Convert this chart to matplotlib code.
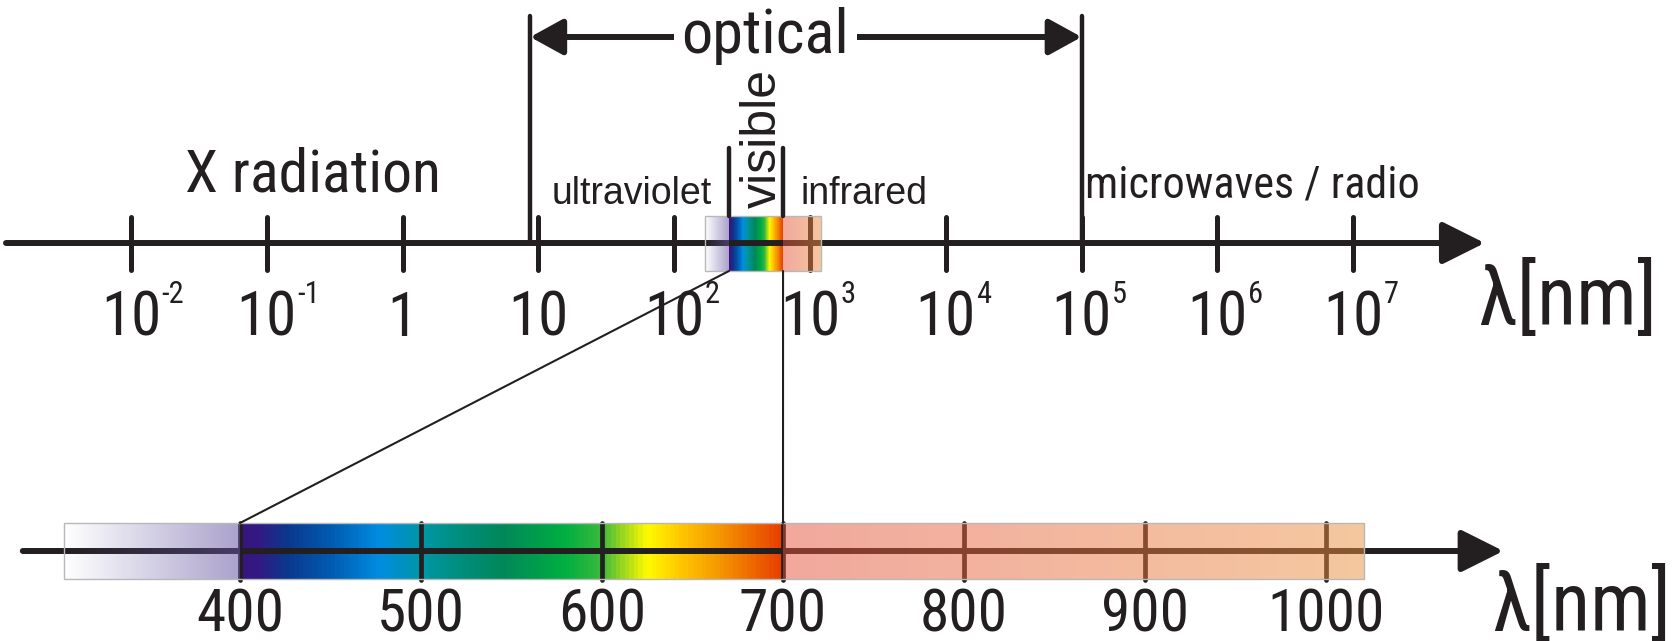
import numpy as np
import matplotlib.pyplot as plt
import matplotlib.transforms as mtrans
from matplotlib import font_manager
from matplotlib.font_manager import FontProperties
from matplotlib.ft2font import FT2Font
from matplotlib.patches import Rectangle, ConnectionPatch

# --- overview axis (log scale, nm) ---
top_ticks = [1e-2, 1e-1, 1, 10, 1e2, 1e3, 1e4, 1e5, 1e6, 1e7]
top_tick_base = ["10", "10", "1", "10", "10", "10", "10", "10", "10", "10"]
top_tick_exp = ["-2", "-1", "", "", "2", "3", "4", "5", "6", "7"]
top_axis_nm = [1.2e-3, 9.3e7]
optical_nm = [8.7, 1e5]
top_band_nm = [169, 253, 633, 1205]      # uv start, visible start, visible end, ir end

region_labels = ["X radiation", "ultraviolet", "infrared", "microwaves / radio"]
region_x_nm = [0.22, 49, 2500, 1.8e6]

# --- zoomed axis (linear, nm) ---
bottom_ticks = [400, 500, 600, 700, 800, 900, 1000]
bottom_axis_nm = [280, 1098]
bottom_band_nm = [303, 400, 700, 1021]

# spectrum colours across 400-700 nm
spec_nm = [400, 410, 426, 450, 477, 500, 525, 545, 580, 600, 612, 625, 643, 665, 700]
spec_rgb = [(55, 20, 125), (50, 25, 130), (10, 55, 140), (0, 90, 175), (0, 140, 225),
            (0, 150, 165), (0, 140, 120), (0, 135, 90), (0, 175, 65), (60, 185, 60),
            (160, 215, 30), (255, 250, 0), (255, 200, 0), (245, 150, 0), (230, 60, 0)]

INK = "#231f20"
REG = "Liberation Sans"


def find_narrow():
    # the original uses a narrow Arial-like face; take a condensed face if one is installed
    prefs = ["liberation sans narrow", "arial narrow", "roboto condensed", "noto sans",
             "open sans", "liberation sans", "dejavu sans", "roboto", "lato", "inter"]
    best = None
    for f in font_manager.fontManager.ttflist:
        tag = (f.name + " " + f.fname).lower()
        st = f.stretch
        cond = ("narrow" in tag or "condensed" in tag or
                (isinstance(st, str) and "condensed" in st and "extra" not in st
                 and "ultra" not in st))
        if not cond or "extra" in tag or "ultra" in tag or "semicondensed" in tag:
            continue
        if f.style != "normal" or f.weight not in (400, "normal", "regular"):
            continue
        rank = next((i for i, p in enumerate(prefs) if tag.startswith(p)), len(prefs))
        if best is None or rank < best[0]:
            best = (rank, f.fname)
    return best[1] if best else None


NARROW_FILE = find_narrow()
HAS_LAMBDA = False
if NARROW_FILE:
    try:
        HAS_LAMBDA = FT2Font(NARROW_FILE).get_char_index(ord("λ")) != 0
    except Exception:
        HAS_LAMBDA = False

fig = plt.figure(figsize=(16.73, 6.41), dpi=100)
renderer = fig.canvas.get_renderer()
ax_top = fig.add_axes([0, 0, 1, 1])
ax_bot = fig.add_axes([0, 0, 1, 1])
for ax in (ax_top, ax_bot):
    ax.set_ylim(641, 0)
    ax.axis("off")
    ax.patch.set_alpha(0)
ax_top.set_xscale("log")
ax_top.set_xlim(10 ** -2.965, 10 ** 9.355)
ax_bot.set_xlim(267.4, 1191.7)


def fprop(size, need_lambda=False):
    if NARROW_FILE and (HAS_LAMBDA or not need_lambda):
        return FontProperties(fname=NARROW_FILE, size=size)
    return FontProperties(family=[REG, "DejaVu Sans"], size=size)


def ntext(ax, x, y, s, size, width=None, **kw):
    # size from the letter height; shrink towards the reference width if the face is wider
    lam = "λ" in s
    t = ax.text(x, y, s, fontproperties=fprop(size, lam), color=INK, **kw)
    if width:
        w = t.get_window_extent(renderer).width
        if w > width:
            sw = size * width / w
            t.set_fontproperties(fprop(sw ** 0.75 * size ** 0.25, lam))
    return t


def band(ax, edges, y0, y1, log):
    space = np.geomspace if log else np.linspace
    uv0, v0, v1, ir1 = edges
    n = 120
    f = (np.arange(n) + 0.5) / n
    # visible spectrum (under the axis line)
    x = space(v0, v1, n + 1)
    nm = 400 + 300 * f
    rgb = np.array([np.interp(nm, spec_nm, [c[i] for c in spec_rgb]) for i in range(3)]).T / 255
    C = np.ones((1, n, 4))
    C[0, :, :3] = rgb
    ax.pcolormesh(x, [y0, y1], C, zorder=1, antialiased=False, linewidth=0)
    # ultraviolet overlay, fading in
    x = space(uv0, v0, n + 1)
    C = np.zeros((1, n, 4))
    C[0, :, :3] = np.array([100, 85, 160]) / 255
    C[0, :, 3] = 0.55 * f
    ax.pcolormesh(x, [y0, y1], C, zorder=3, antialiased=False, linewidth=0)
    # infrared overlay
    x = space(v1, ir1, n + 1)
    C = np.zeros((1, n, 4))
    c0, c1 = np.array([228, 82, 61]), np.array([235, 145, 65])
    C[0, :, :3] = (c0 + np.outer(f, c1 - c0)) / 255
    C[0, :, 3] = 0.5
    ax.pcolormesh(x, [y0, y1], C, zorder=3, antialiased=False, linewidth=0)
    ax.add_patch(Rectangle((uv0, y0), ir1 - uv0, y1 - y0, fill=False,
                           edgecolor="#b8b8b8", lw=1, zorder=4))


def arrow_axis(ax, x0, x1, y):
    ax.annotate("", xy=(x1, y), xytext=(x0, y),
                arrowprops=dict(arrowstyle="-|>,head_length=2.6,head_width=1.3",
                                mutation_scale=10, lw=4.3, color=INK,
                                shrinkA=0, shrinkB=0, capstyle="round"),
                zorder=2)


def tick_label(ax, x, base, exp, y, width):
    t = ntext(ax, x, y, base, 44, width=width, ha="center", va="baseline")
    if exp:
        w = t.get_window_extent(renderer).width
        tr = mtrans.offset_copy(ax.transData, fig=fig, x=w / 2, y=33, units="dots")
        ntext(ax, x, y, exp, 22, transform=tr, ha="left", va="baseline")


# top axis
Y_TOP = 243
arrow_axis(ax_top, top_axis_nm[0], top_axis_nm[1], Y_TOP)
ax_top.vlines(top_ticks, 217, 270, color=INK, lw=3.6, capstyle="round", zorder=2)
for t, b, e in zip(top_ticks, top_tick_base, top_tick_exp):
    tick_label(ax_top, t, b, e, 336, 31 * len(b))
band(ax_top, top_band_nm, 216, 271, True)
ax_top.vlines(top_band_nm[1:3], 148, 216, color=INK, lw=3.2, capstyle="round", zorder=5)
ax_top.text(400, 139, "visible", rotation=90, ha="center", va="center",
            fontsize=36, family=REG, color=INK,
            transform=mtrans.offset_copy(ax_top.transData, fig=fig, x=7, y=0, units="dots"))

# optical bracket
ax_top.vlines(optical_nm, 16, Y_TOP, color=INK, lw=3.2, capstyle="round", zorder=5)
ax_top.annotate("", xy=(optical_nm[1], 37), xytext=(optical_nm[0], 37),
                arrowprops=dict(arrowstyle="<|-|>,head_length=2.0,head_width=1.1",
                                mutation_scale=10, lw=4.3, color=INK,
                                shrinkA=0, shrinkB=0))
ntext(ax_top, 470, 53, "optical", 47, width=165, ha="center", va="baseline", zorder=6,
      bbox=dict(boxstyle="square,pad=0.12", fc="white", ec="none"))

# region labels
ntext(ax_top, region_x_nm[0], 192, region_labels[0], 45, width=252,
      ha="center", va="baseline")
ax_top.text(region_x_nm[1], 204, region_labels[1], ha="center", va="baseline",
            fontsize=27, family=REG, color=INK)
ax_top.text(region_x_nm[2], 204, region_labels[2], ha="center", va="baseline",
            fontsize=27, family=REG, color=INK)
ntext(ax_top, region_x_nm[3], 198, region_labels[3], 40, width=310,
      ha="center", va="baseline")
ntext(ax_top, top_axis_nm[1], 324, "λ[nm]", 58, width=188, ha="right", va="baseline",
      transform=mtrans.offset_copy(ax_top.transData, fig=fig, x=172, y=0, units="dots"))

# bottom axis
Y_BOT = 551
arrow_axis(ax_bot, bottom_axis_nm[0], bottom_axis_nm[1], Y_BOT)
ax_bot.vlines(bottom_ticks, 523, 580, color=INK, lw=3.4, capstyle="round", zorder=2)
for t in bottom_ticks:
    tick_label(ax_bot, t, str(t), "", 631, 29 * len(str(t)))
band(ax_bot, bottom_band_nm, 523, 579, False)
ntext(ax_bot, bottom_axis_nm[1], 630, "λ[nm]", 58, width=188, ha="right", va="baseline",
      transform=mtrans.offset_copy(ax_bot.transData, fig=fig, x=168, y=0, units="dots"))

# zoom connectors
for a, b in zip(top_band_nm[1:3], bottom_band_nm[1:3]):
    fig.add_artist(ConnectionPatch(xyA=(a, 271), coordsA=ax_top.transData,
                                   xyB=(b, 523), coordsB=ax_bot.transData,
                                   color=INK, lw=1.5, zorder=6))

fig.savefig("out.png", dpi=100)
